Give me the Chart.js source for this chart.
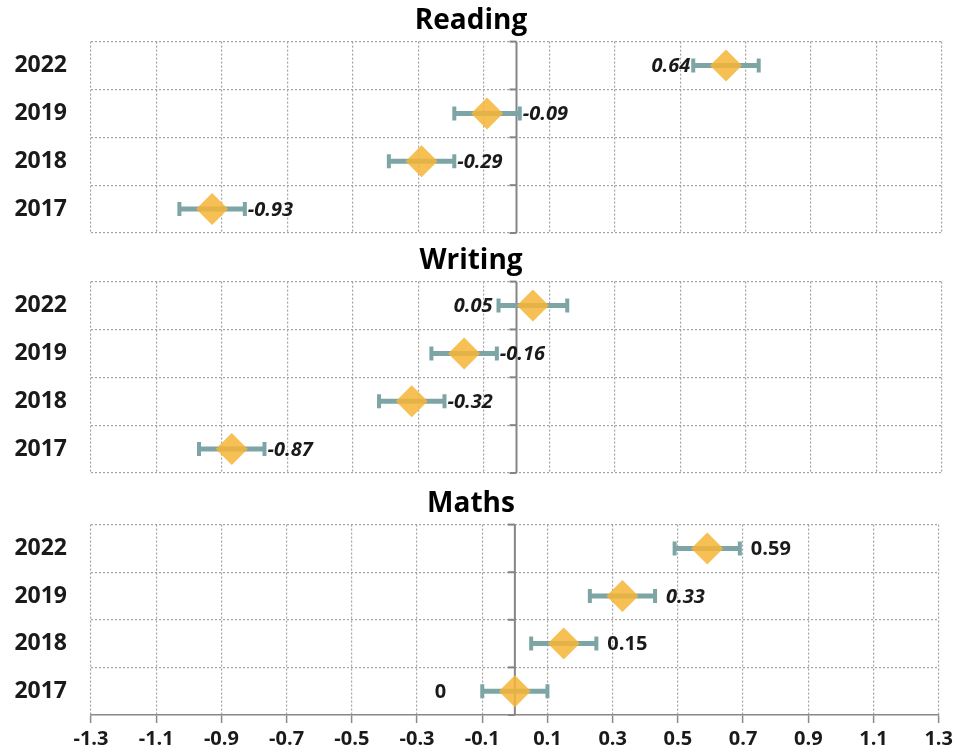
<!DOCTYPE html>
<html>
<head>
<meta charset="utf-8">
<script src="https://cdn.jsdelivr.net/npm/chart.js@4.4.0/dist/chart.umd.min.js"></script>
<style>
  html, body { margin: 0; padding: 0; background: #fff; }
  #wrap { position: relative; width: 957px; height: 755px; }
  .panel { position: absolute; left: 0; width: 957px; }
</style>
</head>
<body>
<div id="wrap">
  <div class="panel" style="top:0;height:240px"><canvas id="reading"></canvas></div>
  <div class="panel" style="top:240px;height:240px"><canvas id="writing"></canvas></div>
  <div class="panel" style="top:483px;height:272px"><canvas id="maths"></canvas></div>
</div>
<script>
// rows, top to bottom
const years = ['2022', '2019', '2018', '2017'];
const xTicks = [-1.3, -1.1, -0.9, -0.7, -0.5, -0.3, -0.1, 0.1, 0.3, 0.5, 0.7, 0.9, 1.1, 1.3];

const readingValues = [0.64, -0.09, -0.29, -0.93];
const readingErrors = [0.10, 0.10, 0.10, 0.10];
const writingValues = [0.05, -0.16, -0.32, -0.87];
const writingErrors = [0.105, 0.10, 0.10, 0.10];
const mathsValues = [0.59, 0.33, 0.15, 0];
const mathsErrors = [0.10, 0.10, 0.10, 0.10];

// where the value label sits next to each bar
const readingSides = ['left', 'right', 'right', 'right'];
const writingSides = ['left', 'right', 'right', 'right'];
const mathsSides = ['right', 'right', 'right', 'left'];

const FONT = '"Open Sans", "DejaVu Sans", sans-serif';
const GRID = '#a3a3a3';

function makePanel(id, title, values, errors, sides, opts) {
    const last = !!opts.last;

    const forest = {
        id: 'forest',
        beforeDatasetsDraw(chart) {
            const {ctx, chartArea, scales: {x, y}} = chart;
            const x0 = x.getPixelForValue(0);
            ctx.save();
            // zero axis with little ticks at row borders
            ctx.strokeStyle = '#858585';
            ctx.lineWidth = 2;
            ctx.beginPath();
            ctx.moveTo(x0, chartArea.top);
            ctx.lineTo(x0, chartArea.bottom);
            ctx.stroke();
            for (let i = 0; i <= years.length; i++) {
                const yy = y.getPixelForValue(i - 0.5);
                ctx.beginPath();
                ctx.moveTo(x0 - 7, yy);
                ctx.lineTo(x0, yy);
                ctx.stroke();
            }
            // error bars
            ctx.strokeStyle = '#7ea5a5';
            values.forEach((v, i) => {
                const yy = y.getPixelForValue(i);
                const xl = x.getPixelForValue(v - errors[i]);
                const xr = x.getPixelForValue(v + errors[i]);
                ctx.lineWidth = 5;
                ctx.beginPath();
                ctx.moveTo(xl, yy);
                ctx.lineTo(xr, yy);
                ctx.stroke();
                ctx.lineWidth = 4;
                ctx.beginPath();
                ctx.moveTo(xl, yy - 7);
                ctx.lineTo(xl, yy + 7);
                ctx.moveTo(xr, yy - 7);
                ctx.lineTo(xr, yy + 7);
                ctx.stroke();
            });
            ctx.restore();
        },
        afterDatasetsDraw(chart) {
            const {ctx, scales: {x, y}} = chart;
            ctx.save();
            ctx.fillStyle = '#1a1a1a';
            ctx.textBaseline = 'middle';
            values.forEach((v, i) => {
                const yy = y.getPixelForValue(i) + 1;
                const italic = opts.italic[i];
                ctx.font = (italic ? 'italic ' : '') + 'bold 20px ' + FONT;
                const gap = opts.gaps[i];
                if (sides[i] === 'left') {
                    ctx.textAlign = 'right';
                    ctx.fillText(String(v), x.getPixelForValue(v - errors[i]) - gap, yy);
                } else {
                    ctx.textAlign = 'left';
                    ctx.fillText(String(v), x.getPixelForValue(v + errors[i]) + gap, yy);
                }
            });
            ctx.restore();
        }
    };

    return new Chart(document.getElementById(id), {
        type: 'scatter',
        data: {
            datasets: [{
                data: values.map((v, i) => ({x: v, y: years[i]})),
                pointStyle: 'rectRot',
                pointRadius: 16,
                pointHoverRadius: 16,
                backgroundColor: 'rgba(245,182,56,0.86)',
                borderWidth: 0
            }]
        },
        options: {
            responsive: true,
            maintainAspectRatio: false,
            animation: false,
            layout: { autoPadding: false, padding: { left: 0, right: 15, top: 0, bottom: last ? 0 : 7 } },
            plugins: {
                legend: { display: false },
                tooltip: { enabled: false },
                title: {
                    display: true,
                    text: title,
                    color: '#000',
                    font: { family: FONT, size: 28, weight: 'bold' },
                    padding: { top: 4, bottom: 4 }
                }
            },
            scales: {
                x: {
                    type: 'linear',
                    min: -1.3,
                    max: 1.3,
                    afterBuildTicks: s => { s.ticks = xTicks.map(v => ({value: v})); },
                    afterFit: s => { if (!last) s.height = 0; },
                    grid: {
                        color: GRID,
                        lineWidth: 1.2,
                        drawTicks: last,
                        tickLength: 8,
                        tickColor: '#8a8a8a',
                        tickWidth: 1.5
                    },
                    border: { display: last, color: '#8a8a8a', width: 1.5, dash: [2, 2] },
                    ticks: {
                        display: last,
                        padding: 4,
                        color: '#1a1a1a',
                        autoSkip: false,
                        maxRotation: 0,
                        font: { family: FONT, size: 20, weight: 'bold' },
                        callback: v => Number(v).toFixed(1)
                    }
                },
                y: {
                    type: 'category',
                    labels: years,
                    offset: true,
                    grid: { offset: true, color: GRID, lineWidth: 1.2, drawTicks: false },
                    border: { display: false, dash: [2, 2] },
                    ticks: {
                        padding: 24,
                        color: '#1a1a1a',
                        font: { family: FONT, size: 23, weight: 'bold' }
                    },
                    afterFit: s => { s.width = 91; s.paddingTop = 0; s.paddingBottom = 0; }
                }
            }
        },
        plugins: [forest]
    });
}

makePanel('reading', 'Reading', readingValues, readingErrors, readingSides,
    { italic: [true, true, true, true], gaps: [3, 3, 3, 3] });
makePanel('writing', 'Writing', writingValues, writingErrors, writingSides,
    { italic: [true, true, true, true], gaps: [6, 3, 3, 3] });
makePanel('maths', 'Maths', mathsValues, mathsErrors, mathsSides,
    { italic: [false, true, false, false], gaps: [11, 11, 11, 36], last: true });
</script>
</body>
</html>
